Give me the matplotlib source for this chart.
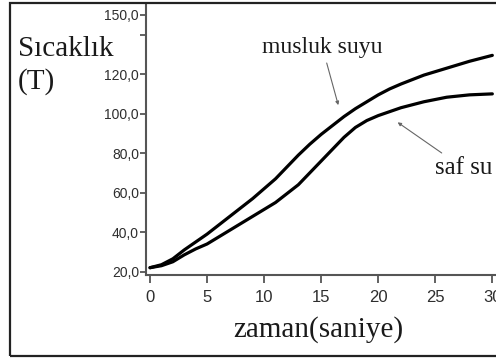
import matplotlib
matplotlib.use("Agg")
import matplotlib.pyplot as plt
from matplotlib.patches import Rectangle

# readings
t_musluk = [0, 1, 2, 3, 4, 5, 6, 7, 8, 9, 10, 11, 12, 13, 14, 15, 16, 17, 18, 19, 20, 21, 22, 24, 26, 28, 30]
T_musluk = [22, 23.5, 26.5, 31, 35, 39, 43.5, 48, 52.5, 57, 62, 67, 73, 79, 84.5, 89.5, 94, 98.5,
            102.5, 106, 109.5, 112.5, 115, 119.5, 123, 126.5, 129.5]

t_saf = [0, 1, 2, 3, 4, 5, 6, 7, 8, 9, 10, 11, 12, 13, 14, 15, 16, 17, 18, 19, 20, 21, 22, 24, 26, 28, 30]
T_saf = [22, 23, 25, 28.5, 31.5, 34, 37.5, 41, 44.5, 48, 51.5, 55, 59.5, 64, 70, 76, 82, 88,
         93, 96.5, 99, 101, 103, 106, 108.3, 109.5, 110]

y_ticks = [20, 40, 60, 80, 100, 120, 140, 150]
y_labels = ["20,0", "40,0", "60,0", "80,0", "100,0", "120,0", "", "150,0"]
x_ticks = [0, 5, 10, 15, 20, 25, 30]

serif = ["Liberation Serif", "DejaVu Serif"]
sans = ["Liberation Sans", "DejaVu Sans"]

fig = plt.figure(figsize=(4.96, 3.6), dpi=100)
ax = fig.add_axes([0.2944, 0.2361, 0.712, 0.7528])

ax.plot(t_musluk, T_musluk, color="black", lw=2.3, solid_capstyle="round", solid_joinstyle="round")
ax.plot(t_saf, T_saf, color="black", lw=2.3, solid_capstyle="round", solid_joinstyle="round")

ax.set_xlim(-0.35, 30.6)
ax.set_ylim(18.3, 155.5)

ax.set_yticks(y_ticks)
ax.set_yticklabels(y_labels)
ax.set_xticks(x_ticks)
ax.set_xticklabels([str(v) for v in x_ticks])

for s in ["top", "right"]:
    ax.spines[s].set_visible(False)
for s in ["left", "bottom"]:
    ax.spines[s].set_color("#555555")
    ax.spines[s].set_linewidth(1.5)

ax.tick_params(axis="y", direction="out", length=4, width=1.3, color="#555555",
               pad=1, labelsize=10, labelcolor="#2e2e2e")
ax.tick_params(axis="x", direction="out", length=6, width=1.3, color="#555555",
               pad=5, labelsize=12, labelcolor="#2e2e2e")
for lab in ax.get_xticklabels() + ax.get_yticklabels():
    lab.set_family(sans)

# axis titles as free text
fig.text(18 / 496, 1 - 49 / 360, "Sıcaklık", family=serif, fontsize=21,
         color="#1a1a1a", ha="left", va="center")
fig.text(18 / 496, 1 - 82 / 360, "(T)", family=serif, fontsize=21,
         color="#1a1a1a", ha="left", va="center")
fig.text(318 / 496, 1 - 330 / 360, "zaman(saniye)", family=serif, fontsize=21,
         color="#1a1a1a", ha="center", va="center")

arrow = dict(arrowstyle="-|>", color="#666666", lw=0.8, mutation_scale=5,
             shrinkA=2, shrinkB=0)
ax.annotate("musluk suyu", xy=(16.5, 104.3), xytext=(15.1, 133.7),
            family=serif, fontsize=17, color="#1a1a1a",
            ha="center", va="center", arrowprops=arrow)
ax.annotate("saf su", xy=(21.7, 95.6), xytext=(27.5, 72.3),
            family=serif, fontsize=18, color="#1a1a1a",
            ha="center", va="center", arrowprops=arrow)

# outer frame round the picture
fig.patches.append(Rectangle((10 / 496, 4 / 360), 1.0, 353 / 360,
                             transform=fig.transFigure, fill=False,
                             edgecolor="#222222", lw=1.6))

fig.savefig("out.png", dpi=100)
